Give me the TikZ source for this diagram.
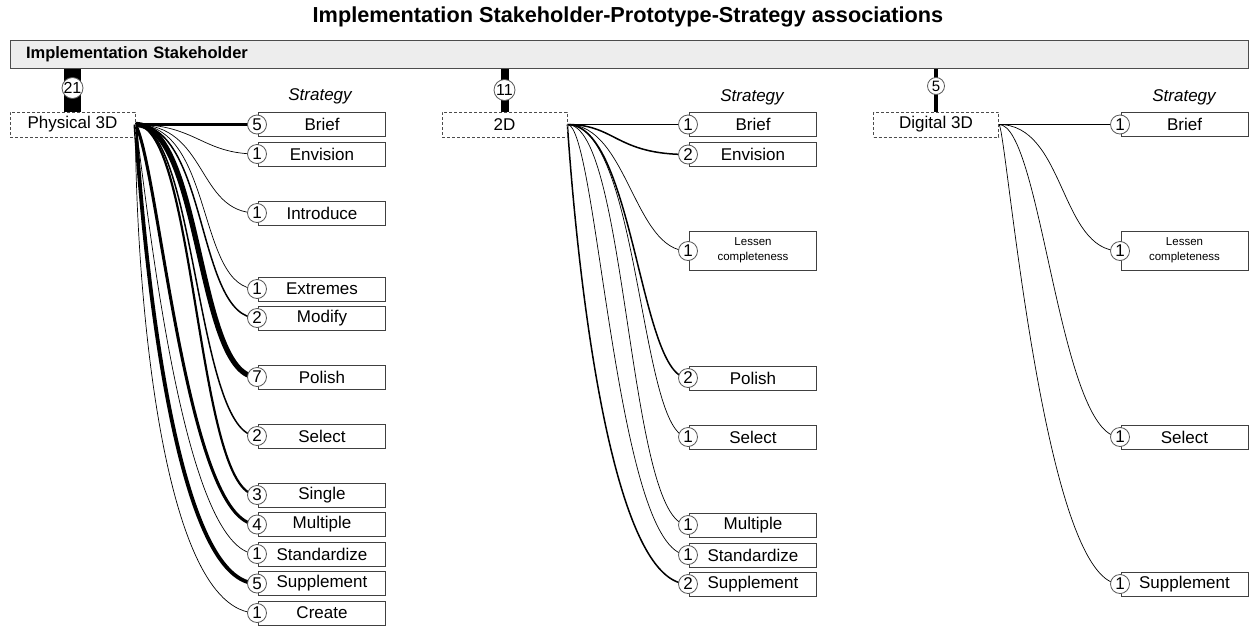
\documentclass[tikz,border=0pt]{standalone}
\usepackage{fontspec}
\setmainfont{Liberation Sans}
\usetikzlibrary{calc}
\pgfdeclarelayer{bg}
\pgfsetlayers{bg,main}
\newcommand\lnk[6]{\draw[lk,line width=#3pt] let \p1=(#1.east), \p2=(#2.center) in (\p1) .. controls ({\x1+#4*(\x2-\x1)},{\y1+#5*(\y2-\y1)}) and ({\x1+#6*(\x2-\x1)},{\y2}) .. (\p2);}
\begin{document}
\begin{tikzpicture}[x=1pt,y=-1pt,
  box/.style={draw=black!75, line width=0.9pt, minimum width=127pt, minimum height=24pt, inner sep=0pt, font=\fontsize{17}{18}\selectfont},
  smallbox/.style={box, minimum height=39pt, align=center, font=\fontsize{11.5}{15}\selectfont},
  num/.style={circle, draw=black!65, fill=white, line width=0.8pt, minimum size=19pt, inner sep=0pt, font=\fontsize{17}{17}\selectfont},
  src/.style={draw=black!70, dash pattern=on 3pt off 2pt, line width=0.8pt, minimum width=125pt, minimum height=25pt, inner sep=0pt, font=\fontsize{17}{18}\selectfont},
  head/.style={font=\fontsize{17}{18}\selectfont\itshape},
  lk/.style={draw=black},
  bar/.style={draw=black}
]
\useasboundingbox (0,0) rectangle (1250,627);
% title
\node (title) at (628,17) {\fontsize{21.7}{23}\selectfont\bfseries Implementation Stakeholder-Prototype-Strategy associations};
% top bar
\node[draw=black!70, fill=black!7, line width=0.9pt, minimum height=28pt, text width=1206pt, inner xsep=16pt, inner ysep=0pt, align=left, font=\fontsize{16.5}{18}\selectfont\bfseries] (sh) at (629,54.5) {Implementation Stakeholder};

% source nodes
\node[src] (p3d) at (72.5,124.5) {Physical 3D};
\node[src] (t2d) at (504.5,124.5) {2D};
\node[src] (d3d) at (936,124.5) {Digital 3D};

% stakeholder counts
\node[num, minimum size=20pt, font=\fontsize{16}{16}\selectfont] (n21) at (72.5,88) {21};
\node[num, minimum size=21pt, font=\fontsize{16}{16}\selectfont] (n11) at (504.5,90) {11};
\node[num, minimum size=17pt, font=\fontsize{15}{15}\selectfont] (n5) at (936,86) {5};

% headings
\node[head] (hp) at (320,96) {Strategy};
\node[head] (ht) at (752,97) {Strategy};
\node[head] (hd) at (1184,97) {Strategy};

% Physical 3D strategies
\node[box] (pb1) at (322,124.5) {Brief};
\node[box] (pb2) at (322,154) {Envision};
\node[box] (pb3) at (322,213) {Introduce};
\node[box] (pb4) at (322,289) {Extremes};
\node[box] (pb5) at (322,318) {Modify};
\node[box] (pb6) at (322,377) {Polish};
\node[box] (pb7) at (322,436) {Select};
\node[box] (pb8) at (322,495) {Single};
\node[box] (pb9) at (322,524.5) {Multiple};
\node[box] (pb10) at (322,554) {Standardize};
\node[box] (pb11) at (322,583.5) {Supplement};
\node[box] (pb12) at (322,613) {Create};
\node[num] (pc1) at (257,124.5) {5};
\node[num] (pc2) at (257,154) {1};
\node[num] (pc3) at (257,213) {1};
\node[num] (pc4) at (257,289) {1};
\node[num] (pc5) at (257,318) {2};
\node[num] (pc6) at (257,377) {7};
\node[num] (pc7) at (257,436) {2};
\node[num] (pc8) at (257,495) {3};
\node[num] (pc9) at (257,524.5) {4};
\node[num] (pc10) at (257,554) {1};
\node[num] (pc11) at (257,583.5) {5};
\node[num] (pc12) at (257,613) {1};

% 2D strategies
\node[box] (tb1) at (753,124.5) {Brief};
\node[box] (tb2) at (753,154.5) {Envision};
\node[smallbox] (tb3) at (753,250.5) {Lessen\\completeness};
\node[box] (tb4) at (753,378) {Polish};
\node[box] (tb5) at (753,437) {Select};
\node[box] (tb6) at (753,525) {Multiple};
\node[box] (tb7) at (753,555) {Standardize};
\node[box] (tb8) at (753,584) {Supplement};
\node[num] (tc1) at (688,124.5) {1};
\node[num] (tc2) at (688,154.5) {2};
\node[num] (tc3) at (688,251) {1};
\node[num] (tc4) at (688,378) {2};
\node[num] (tc5) at (688,437) {1};
\node[num] (tc6) at (688,525) {1};
\node[num] (tc7) at (688,555) {1};
\node[num] (tc8) at (688,584) {2};

% Digital 3D strategies
\node[box] (db1) at (1184.5,124.5) {Brief};
\node[smallbox] (db2) at (1184.5,250.5) {Lessen\\completeness};
\node[box] (db3) at (1184.5,437) {Select};
\node[box] (db4) at (1184.5,584) {Supplement};
\node[num] (dc1) at (1120,124.5) {1};
\node[num] (dc2) at (1120,251) {1};
\node[num] (dc3) at (1120,437) {1};
\node[num] (dc4) at (1120,584) {1};

\begin{pgfonlayer}{bg}
% stakeholder bars
\draw[bar, line width=17pt] (p3d.north |- sh.south) -- (p3d.north);
\draw[bar, line width=8pt] (t2d.north |- sh.south) -- (t2d.north);
\draw[bar, line width=4pt] (d3d.north |- sh.south) -- (d3d.north);
% Physical 3D links
\draw[lk, line width=3.8pt] (p3d.east) -- (pc1.center);
\lnk{p3d}{pc2}{0.7}{0.5}{0}{0.55}
\lnk{p3d}{pc3}{0.7}{0.6}{0}{0.5}
\lnk{p3d}{pc4}{0.7}{0.65}{0}{0.5}
\lnk{p3d}{pc5}{1.5}{0.6}{0}{0.5}
\lnk{p3d}{pc6}{5.3}{0.55}{0}{0.5}
\lnk{p3d}{pc7}{1.5}{0.5}{0}{0.5}
\lnk{p3d}{pc8}{2.2}{0.5}{0}{0.5}
\lnk{p3d}{pc9}{3}{0.19}{0.1}{0.42}
\lnk{p3d}{pc10}{0.7}{0.09}{0.15}{0.37}
\lnk{p3d}{pc11}{3.8}{0.05}{0.2}{0.28}
\lnk{p3d}{pc12}{0.7}{0}{0.3}{0.19}
% 2D links
\draw[lk, line width=0.7pt] (t2d.east) -- (tc1.center);
\lnk{t2d}{tc2}{1.5}{0.4}{0}{0.4}
\lnk{t2d}{tc3}{0.7}{0.5}{0}{0.55}
\lnk{t2d}{tc4}{1.5}{0.55}{0}{0.6}
\lnk{t2d}{tc5}{0.7}{0.6}{0}{0.6}
\lnk{t2d}{tc6}{0.7}{0.5}{0}{0.5}
\lnk{t2d}{tc7}{0.7}{0.25}{0}{0.4}
\lnk{t2d}{tc8}{1.5}{0.05}{0.2}{0.3}
% Digital 3D links
\draw[lk, line width=0.7pt] (d3d.east) -- (dc1.center);
\lnk{d3d}{dc2}{0.7}{0.55}{0}{0.5}
\lnk{d3d}{dc3}{0.7}{0.35}{0}{0.5}
\lnk{d3d}{dc4}{0.7}{0.06}{0}{0.36}
\end{pgfonlayer}
\end{tikzpicture}
\end{document}
